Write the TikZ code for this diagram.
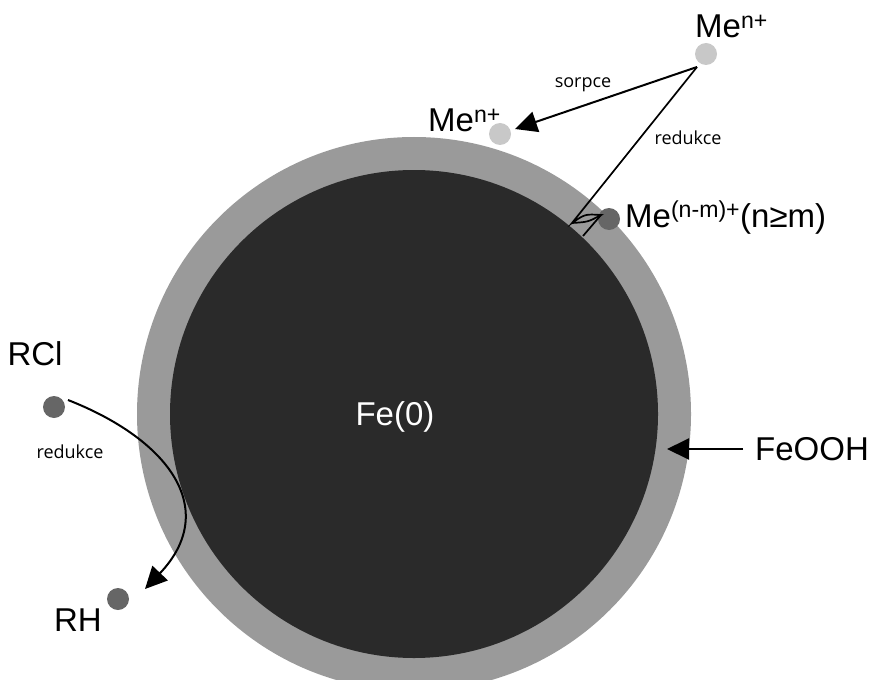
\documentclass[tikz,border=0pt]{standalone}
\usepackage{fontspec}
\setmainfont{Liberation Sans}
\newfontfamily\smallfont{Open Sans}
\usetikzlibrary{arrows.meta}
\definecolor{ring}{HTML}{9A9A9A}
\definecolor{core}{HTML}{2A2A2A}
\definecolor{lightdot}{HTML}{C8C8C8}
\definecolor{darkdot}{HTML}{666666}
\begin{document}
\begin{tikzpicture}[x=1pt,y=-1pt,
  big/.style={font=\fontsize{33}{38}\selectfont, inner sep=0pt},
  lbl/.style={font=\smallfont\fontsize{18}{21}\selectfont, inner sep=0pt},
  ldot/.style={circle, fill=lightdot, minimum size=22pt, inner sep=0pt},
  ddot/.style={circle, fill=darkdot, minimum size=22pt, inner sep=0pt},
  arr/.style={-{Triangle[length=22pt,width=21pt]}, line width=2pt},
  thin line/.style={line width=1.7pt},
]
\useasboundingbox (0,0) rectangle (874,679);
\begin{scope}
\clip (0,0) rectangle (874,679);
\fill[ring] (414,414) circle[radius=277];
\fill[core] (414,414) circle[radius=244];
\end{scope}

% texts
\node[big, text=white] (fe) at (395,417) {Fe(0)};
\node[big, anchor=base west] (metop) at (695,38) {Me\textsuperscript{n+}};
\node[big, anchor=base west] (meleft) at (428,132) {Me\textsuperscript{n+}};
\node[big, anchor=base west] (mered) at (625,227) {Me\textsuperscript{(n-m)+}(n≥m)};
\node[big, anchor=west] (feooh) at (755,449) {FeOOH};
\node[big] (rcl) at (35,354) {RCl};
\node[big] (rh) at (78,620) {RH};
\node[lbl] (sorpce) at (583,85) {sorpce};
\node[lbl] (red1) at (688,138) {redukce};
\node[lbl] (red2) at (70,452) {redukce};

% dots
\node[ldot] (dtop) at (706,54) {};
\node[ldot] (dleft) at (500,134) {};
\node[ddot] (dred) at (609,219) {};
\node[ddot] (drcl) at (54,407) {};
\node[ddot] (drh) at (118,599) {};

% connectors
\coordinate (src) at (697,67);
\coordinate (sorptip) at (515,129);
\coordinate (r1) at (572,223);
\coordinate (r2) at (601,215);
\coordinate (r3) at (583,236);
\coordinate (fetip) at (667,449);
\coordinate (rclstart) at (68,400);
\coordinate (rhtip) at (145,589);

\draw[arr] (src) -- (sorptip);
\draw[thin line] (src) -- (r1) .. controls (585,214) .. (r2) .. controls (588,222) .. (r1);
\draw[thin line] (r2) -- (r3);
\draw[arr] ([xshift=-12pt]feooh.west) -- (fetip);
\draw[arr] (rclstart) .. controls (170,440) and (220,510) .. (rhtip);
\end{tikzpicture}
\end{document}
